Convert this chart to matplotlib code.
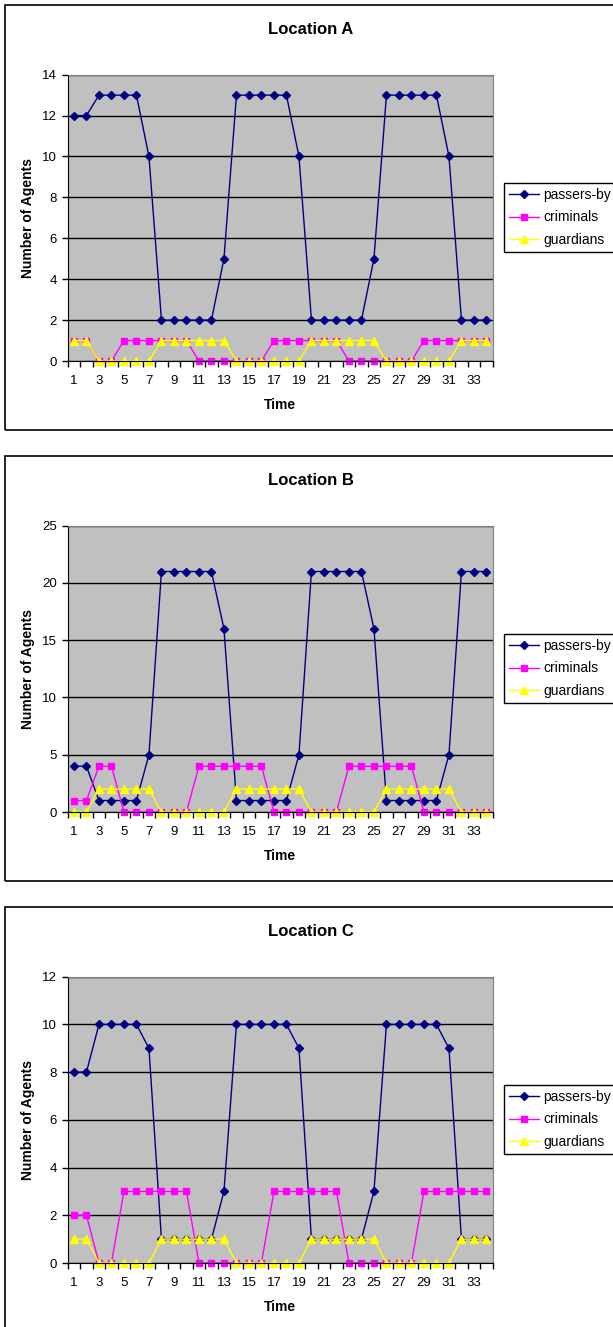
import numpy as np
import matplotlib
matplotlib.use("Agg")
import matplotlib.pyplot as plt
from matplotlib.patches import Rectangle

plt.rcParams["font.family"] = ["Liberation Sans", "DejaVu Sans"]

time = list(range(1, 35))

a_passers = [12, 12, 13, 13, 13, 13, 10, 2, 2, 2, 2, 2, 5, 13, 13, 13, 13, 13,
             10, 2, 2, 2, 2, 2, 5, 13, 13, 13, 13, 13, 10, 2, 2, 2]
a_criminals = [1, 1, 0, 0, 1, 1, 1, 1, 1, 1, 0, 0, 0, 0, 0, 0, 1, 1,
               1, 1, 1, 1, 0, 0, 0, 0, 0, 0, 1, 1, 1, 1, 1, 1]
a_guardians = [1, 1, 0, 0, 0, 0, 0, 1, 1, 1, 1, 1, 1, 0, 0, 0, 0, 0,
               0, 1, 1, 1, 1, 1, 1, 0, 0, 0, 0, 0, 0, 1, 1, 1]

b_passers = [4, 4, 1, 1, 1, 1, 5, 21, 21, 21, 21, 21, 16, 1, 1, 1, 1, 1,
             5, 21, 21, 21, 21, 21, 16, 1, 1, 1, 1, 1, 5, 21, 21, 21]
b_criminals = [1, 1, 4, 4, 0, 0, 0, 0, 0, 0, 4, 4, 4, 4, 4, 4, 0, 0,
               0, 0, 0, 0, 4, 4, 4, 4, 4, 4, 0, 0, 0, 0, 0, 0]
b_guardians = [0, 0, 2, 2, 2, 2, 2, 0, 0, 0, 0, 0, 0, 2, 2, 2, 2, 2,
               2, 0, 0, 0, 0, 0, 0, 2, 2, 2, 2, 2, 2, 0, 0, 0]

c_passers = [8, 8, 10, 10, 10, 10, 9, 1, 1, 1, 1, 1, 3, 10, 10, 10, 10, 10,
             9, 1, 1, 1, 1, 1, 3, 10, 10, 10, 10, 10, 9, 1, 1, 1]
c_criminals = [2, 2, 0, 0, 3, 3, 3, 3, 3, 3, 0, 0, 0, 0, 0, 0, 3, 3,
               3, 3, 3, 3, 0, 0, 0, 0, 0, 0, 3, 3, 3, 3, 3, 3]
c_guardians = [1, 1, 0, 0, 0, 0, 0, 1, 1, 1, 1, 1, 1, 0, 0, 0, 0, 0,
               0, 1, 1, 1, 1, 1, 1, 0, 0, 0, 0, 0, 0, 1, 1, 1]

charts = [
    ("Location A", a_passers, a_criminals, a_guardians, 14, 2),
    ("Location B", b_passers, b_criminals, b_guardians, 25, 5),
    ("Location C", c_passers, c_criminals, c_guardians, 12, 2),
]

W, H = 613, 1327
fig = plt.figure(figsize=(W / 100, H / 100), dpi=100)

for i, (title, pas, crim, guard, ymax, ystep) in enumerate(charts):
    off = i * 451
    # chart area frame, right edge runs off the picture
    fig.patches.append(Rectangle((5 / W, 1 - (430 + off) / H), 615 / W, 425 / H,
                                 transform=fig.transFigure, fill=False,
                                 edgecolor="black", linewidth=1.2))
    top, bot = 74.7 + off, 361 + off
    ax = fig.add_axes([67.7 / W, 1 - bot / H, 425 / W, (bot - top) / H])
    ax.set_facecolor("#C0C0C0")
    ax.plot(time, pas, color="#000080", marker="D", markersize=4.5, lw=1,
            label="passers-by", clip_on=False)
    ax.plot(time, crim, color="#FF00FF", marker="s", markersize=5, lw=1,
            label="criminals", clip_on=False)
    ax.plot(time, guard, color="#FFFF00", marker="^", markersize=5.5, lw=1,
            label="guardians", clip_on=False)

    ax.set_xlim(0.5, 34.5)
    ax.set_ylim(0, ymax)
    ax.set_yticks(np.arange(0, ymax + 1, ystep))
    ax.set_xticks(np.arange(0.5, 35, 1))
    ax.set_xticklabels([])
    ax.set_xticks(time[::2], minor=True)
    ax.set_xticklabels([str(t) for t in time[::2]], minor=True)
    ax.tick_params(axis="x", which="major", direction="out", length=4, width=1)
    ax.tick_params(axis="x", which="minor", length=0, pad=10, labelsize=9.5)
    ax.tick_params(axis="y", direction="out", length=4, width=1, pad=4, labelsize=9.5)

    ax.set_axisbelow(True)
    ax.yaxis.grid(True, color="black", lw=1)
    for s in ["top", "right"]:
        ax.spines[s].set_color("#808080")
    for s in ["left", "bottom"]:
        ax.spines[s].set_color("black")

    ax.set_ylabel("Number of Agents", fontsize=10, fontweight="bold", labelpad=5)
    ax.set_xlabel("Time", fontsize=10, fontweight="bold", labelpad=8)
    fig.text(311 / W, 1 - (29 + off) / H, title, ha="center", va="center",
             fontsize=12, fontweight="bold")

    leg = ax.legend(loc="upper left", bbox_to_anchor=(504 / W, 1 - (183 + off) / H),
                    bbox_transform=fig.transFigure, fancybox=False, framealpha=1,
                    edgecolor="black", fontsize=10, handlelength=2.2,
                    handletextpad=0.25, labelspacing=0.62, borderpad=0.35,
                    borderaxespad=0)
    leg.get_frame().set_linewidth(1)

fig.savefig("out.png", dpi=100)
